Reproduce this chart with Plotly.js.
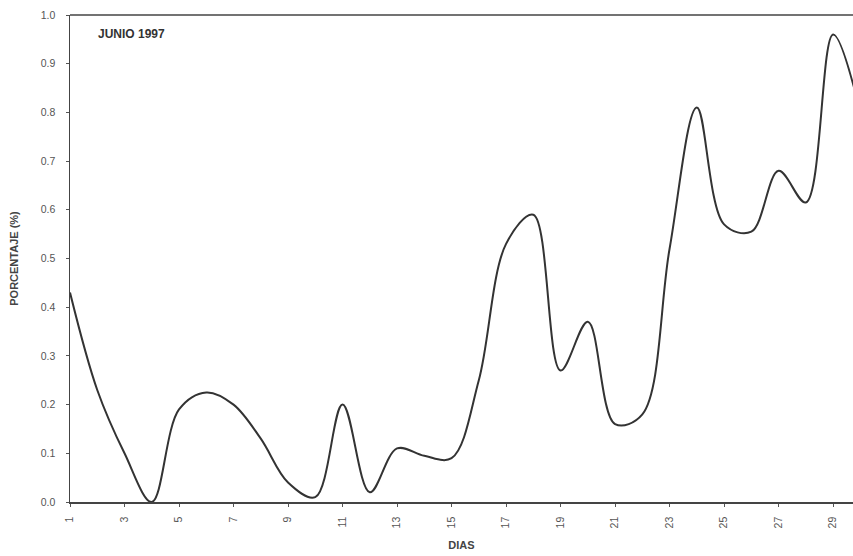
<!DOCTYPE html>
<html>
<head>
<meta charset="utf-8">
<script src="https://cdn.plot.ly/plotly-3.0.1.min.js"></script>
<style>html,body{margin:0;padding:0;background:#fff;}#chart{width:853px;height:556px;}</style>
</head>
<body>
<div id="chart"></div>
<script>
const dias = [1,2,3,4,5,6,7,8,9,10,11,12,13,14,15,16,17,18,19,20,21,22,23,24,25,26,27,28,29,30];
const porcentaje = [0.43,0.23,0.10,0.0,0.19,0.225,0.20,0.13,0.04,0.01,0.20,0.02,0.11,0.095,0.09,0.25,0.53,0.59,0.27,0.37,0.16,0.18,0.52,0.81,0.57,0.555,0.68,0.615,0.96,0.80];
const xTicks = [1,3,5,7,9,11,13,15,17,19,21,23,25,27,29];
const yTicks = [0,0.1,0.2,0.3,0.4,0.5,0.6,0.7,0.8,0.9,1.0];
const yTickText = yTicks.map(v => v.toFixed(1));

const trace = {
  x: dias, y: porcentaje, type: 'scatter', mode: 'lines',
  line: {color: '#333', width: 2, shape: 'spline', smoothing: 1},
  cliponaxis: true, hoverinfo: 'skip'
};

const layout = {
  width: 853, height: 556,
  margin: {l: 70, r: 0, t: 15, b: 54},
  paper_bgcolor: '#fff', plot_bgcolor: '#fff',
  showlegend: false,
  font: {family: 'Liberation Sans, Arial, sans-serif', color: '#555', size: 10},
  xaxis: {
    range: [1, 29.73], tickmode: 'array', tickvals: xTicks, ticktext: xTicks.map(String),
    tickangle: -90, ticks: 'outside', ticklen: 3, tickcolor: '#555', tickwidth: 1,
    ticklabelstandoff: 6,
    showgrid: false, zeroline: false, showline: true, linecolor: '#444', linewidth: 1.5,
    mirror: false, tickfont: {size: 10.5, color: '#555'},
    title: {text: '<b>DIAS</b>', font: {size: 11, color: '#444'}, standoff: 14}
  },
  yaxis: {
    range: [0, 1.0], tickmode: 'array', tickvals: yTicks, ticktext: yTickText,
    ticks: 'outside', ticklen: 3, tickcolor: '#555', tickwidth: 1,
    ticklabelstandoff: 8,
    showgrid: false, zeroline: false, showline: true, linecolor: '#444', linewidth: 1.5,
    tickfont: {size: 10.5, color: '#555'},
    title: {text: '<b>PORCENTAJE (%)</b>', font: {size: 11, color: '#444'}, standoff: 20}
  },
  shapes: [
    {type: 'line', xref: 'paper', yref: 'paper', x0: 0, x1: 1, y0: 1, y1: 1, line: {color: '#444', width: 1.5}}
  ],
  annotations: [
    {text: '<b>JUNIO 1997</b>', xref: 'paper', yref: 'paper', x: 0.033, y: 0.96, xanchor: 'left', yanchor: 'middle',
     showarrow: false, font: {size: 12, color: '#333'}}
  ]
};

Plotly.newPlot('chart', [trace], layout, {displayModeBar: false, staticPlot: true});
</script>
</body>
</html>
